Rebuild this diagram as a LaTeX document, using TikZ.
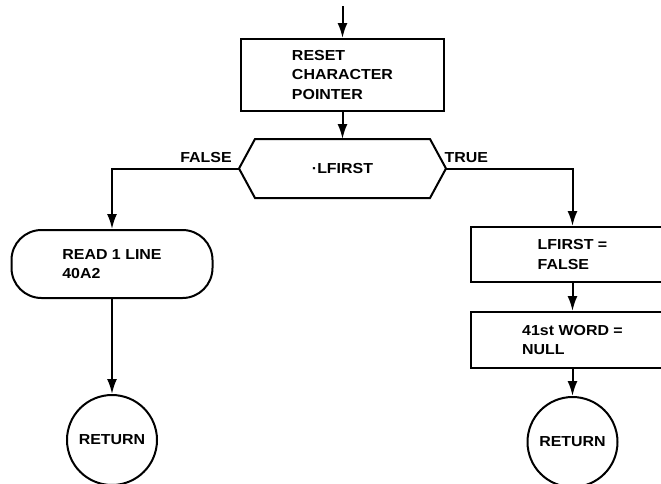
\documentclass[tikz,border=0pt]{standalone}
\usepackage{fontspec}
\setmainfont{Liberation Sans}[FakeStretch=1.1]
\usetikzlibrary{arrows.meta}
\begin{document}
\begin{tikzpicture}[x=1pt, y=-1pt, line width=2pt,
  flow/.style={-{Latex[length=15pt,width=10pt]}},
  txt/.style={font=\fontsize{14.5}{19.5}\selectfont\bfseries, align=left, inner sep=0pt},
  procbox/.style={draw, txt, minimum width=203pt},
  endcircle/.style={draw, circle, txt, minimum size=90pt},
  branch/.style={txt, above=5pt}]
\useasboundingbox (0,0) rectangle (661,483);
\clip (0,0) rectangle (661,483);

% entry and first process
\coordinate (entry) at (342.5,6);
\node[procbox, minimum height=72pt] (reset) at (342.5,75) {RESET\\CHARACTER\\POINTER};

% decision: first line?
\node[txt, minimum width=205pt, minimum height=57pt] (test) at (342.5,168.5) {·LFIRST};
\draw (test.west) -- ([xshift=16pt]test.north west) -- ([xshift=-16pt]test.north east)
  -- (test.east) -- ([xshift=-16pt]test.south east) -- ([xshift=16pt]test.south west) -- cycle;

% FALSE branch
\node[draw, txt, rounded corners=30pt, minimum width=201pt, minimum height=68pt] (read) at (112,264) {READ 1 LINE\\40A2};
\node[endcircle] (retL) at (112,440) {RETURN};

% TRUE branch
\node[procbox, minimum height=55pt] (setflag) at (572.5,254.5) {LFIRST =\\FALSE};
\node[procbox, minimum height=56pt] (setword) at (572.5,340) {41st WORD =\\NULL};
\node[endcircle] (retR) at (572.5,442) {RETURN};

% connectors
\draw[flow] (entry) -- (reset.north);
\draw[flow] (reset.south) -- (test.north);
\draw[flow] (test.west) -| node[branch, pos=0.13] {FALSE} (read.north);
\draw[flow] (read.south) -- (retL.north);
\draw[flow] (test.east) -| node[branch, pos=0.08] {TRUE} (setflag.north);
\draw[flow] (setflag.south) -- (setword.north);
\draw[flow] (setword.south) -- (retR.north);
\end{tikzpicture}
\end{document}
